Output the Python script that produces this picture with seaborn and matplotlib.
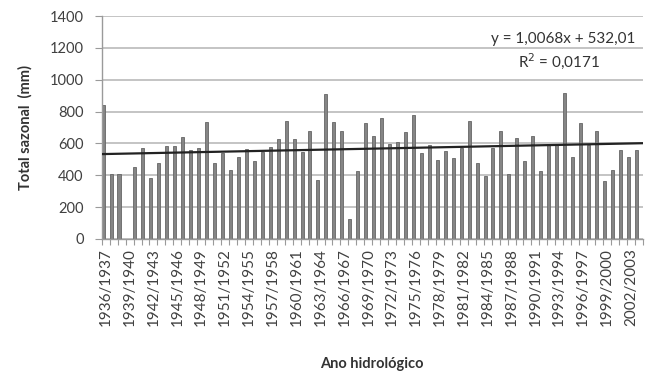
import numpy as np
import pandas as pd
import matplotlib
matplotlib.use("Agg")
import matplotlib.pyplot as plt
import seaborn as sns

# hydrological years 1936/1937 .. 2003/2004
start_years = list(range(1936, 2004))
anos = ["%d/%d" % (a, a + 1) for a in start_years]

# seasonal totals (mm); 1939/1940 has no bar
totais = [841, 410, 410, 0, 454, 570, 381, 479, 584, 584,
          639, 559, 573, 735, 479, 542, 435, 515, 565, 487,
          544, 576, 627, 743, 628, 548, 680, 371, 909, 733,
          680, 126, 427, 727, 647, 762, 595, 611, 674, 779,
          538, 590, 496, 555, 507, 573, 743, 480, 394, 573,
          680, 410, 632, 490, 647, 427, 588, 588, 919, 513,
          727, 588, 680, 365, 435, 559, 513, 559]

# trend line as printed on the chart
declive = 1.0068
ordenada = 532.01
eq_txt = "y = 1,0068x + 532,01"
r2_txt = "R$^2$ = 0,0171"

df = pd.DataFrame({"ano": anos, "total": totais})

sns.set_style("white")
plt.rcParams["font.family"] = ["Lato", "DejaVu Sans"]

fig = plt.figure(figsize=(6.48, 3.75), dpi=100)
ax = fig.add_axes([0.157, 0.363, 0.835, 0.594])

ax.yaxis.grid(True, color="#c4c4c4", linewidth=1.4, zorder=0)
ax.set_axisbelow(True)

sns.barplot(data=df, x="ano", y="total", color="#858585", edgecolor="#666666",
            linewidth=0.6, width=0.38, saturation=1, ax=ax, zorder=2)

# linear trend (x = 1..n as in the spreadsheet)
xs = np.array([-0.17, len(anos) - 0.17])
ax.plot(xs, declive * (xs + 1) + ordenada, color="#222222", linewidth=1.6, zorder=3)

ax.set_xlim(-0.17, len(anos) - 0.17)
ax.set_ylim(0, 1400)
ax.set_yticks(range(0, 1401, 200))

pos = np.arange(len(anos))
ax.set_xticks(pos[::3] + 0.33)
ax.set_xticklabels(anos[::3], rotation=90, fontsize=11, color="#404040")
ax.set_xticks(np.arange(len(anos) + 1) - 0.17, minor=True)
ax.tick_params(axis="x", which="major", length=0, pad=7)
ax.tick_params(axis="x", which="minor", length=4, color="#9a9a9a", width=0.8)
ax.tick_params(axis="y", length=5, color="#9a9a9a", width=0.8, labelsize=10.5,
               labelcolor="#404040", pad=8)
ax.yaxis.set_tick_params(left=True)
ax.xaxis.set_tick_params(bottom=True, which="minor")

for s in ["top", "right"]:
    ax.spines[s].set_visible(False)
for s in ["left", "bottom"]:
    ax.spines[s].set_color("#9a9a9a")
    ax.spines[s].set_linewidth(1.0)

ax.set_xlabel("Ano hidrológico", fontsize=10.5, fontweight="bold", color="#333333", labelpad=22)
ax.set_ylabel("Total sazonal  (mm)", fontsize=10.5, fontweight="bold", color="#333333", labelpad=12)

fig.text(0.98, 0.897, eq_txt, ha="right", va="center", fontsize=11, color="#333333")
fig.text(0.926, 0.838, r2_txt, ha="right", va="center", fontsize=11, color="#333333")

fig.savefig("out.png", dpi=100)
